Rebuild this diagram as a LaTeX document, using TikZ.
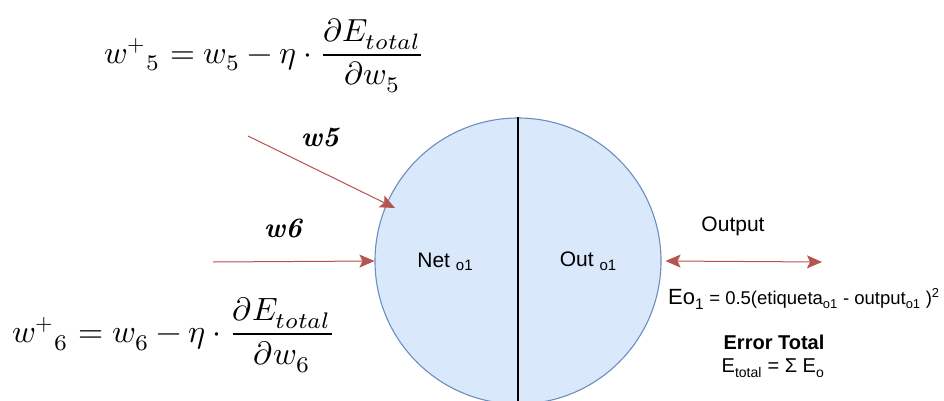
\documentclass[tikz,border=0pt]{standalone}
\usepackage{amsmath}
\usepackage{fontspec}
\setmainfont{Liberation Sans}
\newfontfamily\lmrom{Latin Modern Roman}
\usepackage{unicode-math}
\setmathfont{Latin Modern Math}
\usetikzlibrary{arrows.meta}
\definecolor{arrred}{HTML}{B85450}
\definecolor{cfill}{HTML}{DAE8FC}
\definecolor{cline}{HTML}{6C8EBF}
\tikzset{
  tip/.tip={Stealth[length=15pt,width=13pt,inset=3pt]},
  conn/.style={draw=arrred, fill=arrred, line width=1pt, -tip},
  dconn/.style={draw=arrred, line width=1pt, tip-tip},
  lbl/.style={inner sep=0pt, font=\fontsize{21}{25}\selectfont},
  wlbl/.style={inner sep=0pt, font=\fontsize{28}{32}\selectfont\lmrom\bfseries\itshape},
  eqn/.style={inner sep=0pt}
}
\begin{document}
\begin{tikzpicture}[x=1pt,y=-1pt]
\useasboundingbox (0,0) rectangle (944,401);
\node[circle, draw=cline, fill=cfill, line width=1.1pt, minimum size=286pt, inner sep=0pt] (c) at (518,261) {};
\draw[black, line width=1.2pt] (c.north) -- (c.south);
\node[lbl] (net) at (445,262) {Net {\fontsize{15}{18}\selectfont\raisebox{-3pt}{o1}}};
\node[lbl] (out) at (588,261) {Out {\fontsize{15}{18}\selectfont\raisebox{-4pt}{o1}}};
% inputs
\coordinate (s5) at (248,136);
\coordinate (t5) at (395,208);
\coordinate (s6) at (213,262);
\draw[conn] (s5) -- (t5);
\draw[conn] (s6) -- (c.west);
\node[wlbl] (w5) at (320,137) {w5};
\node[wlbl] (w6) at (283,228) {w6};
% output
\coordinate (oe) at (822,262);
\draw[dconn] ([xshift=4pt]c.east) -- (oe);
\node[lbl] (outl) at (733,226) {Output};
% equations
\node[eqn] (eq5) at (265,56) {\resizebox{320pt}{!}{$\displaystyle w^{+}{}_{5} = w_{5} - \eta\cdot\frac{\partial E_{total}}{\partial w_{5}}$}};
\node[eqn] (eq6) at (174,335) {\resizebox{323pt}{!}{$\displaystyle w^{+}{}_{6} = w_{6} - \eta\cdot\frac{\partial E_{total}}{\partial w_{6}}$}};
% error
\node[inner sep=0pt, anchor=west, font=\fontsize{18.5}{22}\selectfont] (eo) at (668,299) {{\fontsize{22}{25}\selectfont Eo$_{\text{1}}$} = 0.5(etiqueta$_{\text{o1}}$ - output$_{\text{o1}}$ )$^{\text{2}}$};
\node[inner sep=0pt, font=\fontsize{20}{24}\selectfont\bfseries] (et) at (774,342) {Error Total};
\node[inner sep=0pt, font=\fontsize{20}{24}\selectfont] (ets) at (773,368) {E$_{\text{total}}$ = Σ E$_{\text{o}}$};
\end{tikzpicture}
\end{document}
